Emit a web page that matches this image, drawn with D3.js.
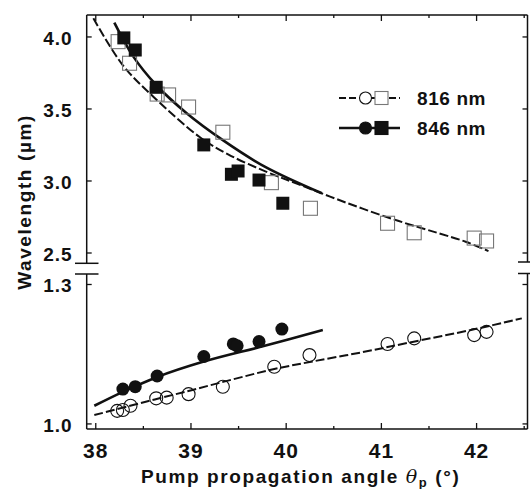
<!DOCTYPE html>
<html>
<head>
<meta charset="utf-8">
<script src="https://cdn.jsdelivr.net/npm/d3@7"></script>
<style>
  body { margin: 0; background: #fff; }
  svg text { font-family: "Liberation Sans", Arial, sans-serif; font-weight: bold; fill: #111; }
</style>
</head>
<body>
<div id="chart"></div>
<script>
// pump angle (deg) and wavelength (um)
var sqOpenAngle = [38.24, 38.36, 38.65, 38.77, 38.98, 39.34, 39.85, 40.26, 41.07, 41.35, 41.98, 42.11];
var sqOpenWl    = [3.964, 3.814, 3.60, 3.594, 3.51, 3.335, 2.985, 2.807, 2.703, 2.637, 2.60, 2.58];

var sqFillAngle = [38.30, 38.42, 38.64, 39.14, 39.43, 39.50, 39.72, 39.97];
var sqFillWl    = [3.99, 3.906, 3.647, 3.247, 3.043, 3.066, 3.003, 2.842];

var ciOpenAngle = [38.23, 38.29, 38.37, 38.64, 38.75, 38.98, 39.34, 39.88, 40.25, 41.07, 41.35, 41.98, 42.11];
var ciOpenWl    = [1.027, 1.029, 1.038, 1.054, 1.0555, 1.063, 1.079, 1.122, 1.147, 1.171, 1.183, 1.19, 1.197];

var ciFillAngle = [38.29, 38.42, 38.65, 39.14, 39.45, 39.49, 39.72, 39.96];
var ciFillWl    = [1.074, 1.079, 1.102, 1.144, 1.171, 1.167, 1.176, 1.203];

// theory curves
var fitIdlerAngle816 = [37.98, 38.29, 38.61, 39.10, 39.40, 39.78, 40.13, 40.66, 41.18, 41.60, 41.89, 42.13];
var fitIdlerWl816    = [4.126, 3.80, 3.582, 3.30, 3.18, 3.065, 2.975, 2.84, 2.72, 2.635, 2.575, 2.51];
var fitIdlerAngle846 = [38.20, 38.40, 38.64, 38.96, 39.34, 39.78, 40.38];
var fitIdlerWl846    = [4.096, 3.86, 3.663, 3.467, 3.28, 3.096, 2.911];
var fitSignalAngle816 = [37.99, 38.5, 39.0, 39.45, 39.88, 40.3, 40.8, 41.3, 41.99, 42.48];
var fitSignalWl816    = [1.018, 1.045, 1.071, 1.095, 1.117, 1.134, 1.153, 1.174, 1.203, 1.226];
var fitSignalAngle846 = [37.99, 38.29, 38.64, 39.14, 39.78, 40.39];
var fitSignalWl846    = [1.038, 1.068, 1.099, 1.133, 1.167, 1.201];

var xTicks = [38, 39, 40, 41, 42];
var xMinor = [38.5, 39.5, 40.5, 41.5, 42.5];
var yTicksTop = [2.5, 3.0, 3.5, 4.0];
var yTicksBot = [1.0, 1.3];

var legendLabels = ["816 nm", "846 nm"];

function init() {
    var w = 530, h = 489;
    var left = 86.7, right = 527.5;

    var x = d3.scaleLinear().domain([37.91, 42.54]).range([left, right]);
    var yTop = d3.scaleLinear().domain([2.425, 4.149]).range([263.3, 15]);
    var yBot = d3.scaleLinear().domain([0.988, 1.3215]).range([429, 274]);

    var svg = d3.select("#chart").append("svg")
        .attr("width", w)
        .attr("height", h);

    function zip(a, b) {
        return a.map(function(d, i) { return [d, b[i]]; });
    }

    // frame axes
    var gx = svg.append("g").attr("transform", "translate(0,429)")
        .call(d3.axisBottom(x).tickValues(xTicks).tickSize(-6).tickPadding(14).tickFormat(d3.format("d")));
    gx.append("g").call(d3.axisBottom(x).tickValues(xMinor).tickSize(-3).tickFormat(""));
    gx.selectAll("text").style("font-size", "21px").style("letter-spacing", "1px").attr("fill", "#111");

    var gt = svg.append("g").attr("transform", "translate(0,15)")
        .call(d3.axisTop(x).tickValues(xTicks).tickSize(-6).tickFormat(""));
    gt.append("g").call(d3.axisTop(x).tickValues(xMinor).tickSize(-3).tickFormat(""));

    var gl1 = svg.append("g").attr("transform", "translate(" + left + ",0)")
        .call(d3.axisLeft(yTop).tickValues(yTicksTop).tickSize(-5).tickPadding(14).tickFormat(d3.format(".1f")));
    var gl2 = svg.append("g").attr("transform", "translate(" + left + ",0)")
        .call(d3.axisLeft(yBot).tickValues(yTicksBot).tickSize(-5).tickPadding(14).tickFormat(d3.format(".1f")));
    [gl1, gl2].forEach(function(g) {
        g.selectAll("text").style("font-size", "19px").style("letter-spacing", "1px")
            .attr("dy", "0.4em").attr("fill", "#111");
    });

    svg.append("g").attr("transform", "translate(" + right + ",0)")
        .call(d3.axisRight(yTop).tickValues(yTicksTop).tickSize(-5).tickFormat(""));
    svg.append("g").attr("transform", "translate(" + right + ",0)")
        .call(d3.axisRight(yBot).tickValues(yTicksBot).tickSize(-5).tickFormat(""));

    svg.selectAll(".domain").remove();
    svg.selectAll(".tick line").attr("stroke", "#111").attr("stroke-width", 1.3);

    // frame lines with the axis break
    var frame = svg.append("g").attr("stroke", "#111").attr("stroke-width", 1.5).attr("fill", "none");
    frame.append("line").attr("x1", left).attr("x2", right).attr("y1", 15).attr("y2", 15);
    frame.append("line").attr("x1", left).attr("x2", right).attr("y1", 429).attr("y2", 429);
    frame.append("line").attr("x1", left).attr("x2", left).attr("y1", 15).attr("y2", 263.3);
    frame.append("line").attr("x1", left).attr("x2", left).attr("y1", 274).attr("y2", 429);
    frame.append("line").attr("x1", right).attr("x2", right).attr("y1", 15).attr("y2", 262);
    frame.append("line").attr("x1", right).attr("x2", right).attr("y1", 273.5).attr("y2", 429);
    [263.3, 274].forEach(function(yy) {
        frame.append("line").attr("x1", 75).attr("x2", 98.5).attr("y1", yy).attr("y2", yy);
    });
    [262, 273.5].forEach(function(yy) {
        frame.append("line").attr("x1", 518).attr("x2", 530).attr("y1", yy).attr("y2", yy);
    });

    // curves
    var lineTop = d3.line().x(function(d) { return x(d[0]); }).y(function(d) { return yTop(d[1]); }).curve(d3.curveCatmullRom);
    var lineBot = d3.line().x(function(d) { return x(d[0]); }).y(function(d) { return yBot(d[1]); }).curve(d3.curveCatmullRom);

    var curves = [
        { d: lineTop(zip(fitIdlerAngle816, fitIdlerWl816)), dash: "9,3", sw: 2 },
        { d: lineTop(zip(fitIdlerAngle846, fitIdlerWl846)), dash: null, sw: 2.6 },
        { d: lineBot(zip(fitSignalAngle816, fitSignalWl816)), dash: "9,3", sw: 2 },
        { d: lineBot(zip(fitSignalAngle846, fitSignalWl846)), dash: null, sw: 2.6 }
    ];
    svg.selectAll("path.fit").data(curves).enter().append("path")
        .attr("class", "fit")
        .attr("d", function(d) { return d.d; })
        .attr("fill", "none")
        .attr("stroke", "#111")
        .attr("stroke-width", function(d) { return d.sw; })
        .attr("stroke-dasharray", function(d) { return d.dash; });

    // markers
    svg.selectAll("rect.sqOpen").data(zip(sqOpenAngle, sqOpenWl)).enter().append("rect")
        .attr("class", "sqOpen")
        .attr("x", function(d) { return x(d[0]) - 7; })
        .attr("y", function(d) { return yTop(d[1]) - 7; })
        .attr("width", 14).attr("height", 14)
        .attr("fill", "none").attr("stroke", "#777").attr("stroke-width", 1.1);

    svg.selectAll("rect.sqFill").data(zip(sqFillAngle, sqFillWl)).enter().append("rect")
        .attr("class", "sqFill")
        .attr("x", function(d) { return x(d[0]) - 6.5; })
        .attr("y", function(d) { return yTop(d[1]) - 6.5; })
        .attr("width", 13).attr("height", 13)
        .attr("fill", "#111");

    svg.selectAll("circle.ciOpen").data(zip(ciOpenAngle, ciOpenWl)).enter().append("circle")
        .attr("class", "ciOpen")
        .attr("cx", function(d) { return x(d[0]); })
        .attr("cy", function(d) { return yBot(d[1]); })
        .attr("r", 6.5)
        .attr("fill", "none").attr("stroke", "#111").attr("stroke-width", 1.1);

    svg.selectAll("circle.ciFill").data(zip(ciFillAngle, ciFillWl)).enter().append("circle")
        .attr("class", "ciFill")
        .attr("cx", function(d) { return x(d[0]); })
        .attr("cy", function(d) { return yBot(d[1]); })
        .attr("r", 6.5)
        .attr("fill", "#111");

    // legend
    var lg = svg.append("g");
    legendLabels.forEach(function(lab, i) {
        var yy = 98 + i * 30;
        lg.append("line").attr("x1", 339).attr("x2", 400).attr("y1", yy).attr("y2", yy)
            .attr("stroke", "#111").attr("stroke-width", i ? 2.6 : 2)
            .attr("stroke-dasharray", i ? null : "7,3");
        lg.append("circle").attr("cx", 365.5).attr("cy", yy).attr("r", 6)
            .attr("fill", i ? "#111" : "#fff").attr("stroke", "#111").attr("stroke-width", 1.1);
        lg.append("rect").attr("x", 375).attr("y", yy - 6.5).attr("width", 13).attr("height", 13)
            .attr("fill", i ? "#111" : "#fff").attr("stroke", i ? "#111" : "#777").attr("stroke-width", 1.1);
        lg.append("text").attr("x", 417).attr("y", yy + 7)
            .style("font-size", "19px").style("letter-spacing", "0.6px")
            .text(lab);
    });

    // axis titles
    var xt = svg.append("text").attr("x", 141).attr("y", 483)
        .style("font-size", "19px").style("letter-spacing", "1.6px");
    xt.append("tspan").text("Pump propagation angle ");
    xt.append("tspan").attr("font-family", "DejaVu Serif, serif").style("font-style", "italic").style("font-weight", "normal").text("θ");
    xt.append("tspan").attr("dy", 4).style("font-size", "13px").text("p");
    xt.append("tspan").attr("dy", -4).text(" (°)");

    svg.append("text")
        .attr("transform", "translate(31,202) rotate(-90)")
        .attr("text-anchor", "middle")
        .style("font-size", "19px").style("letter-spacing", "1.6px")
        .text("Wavelength (µm)");
}

window.onload = init;
</script>
</body>
</html>
